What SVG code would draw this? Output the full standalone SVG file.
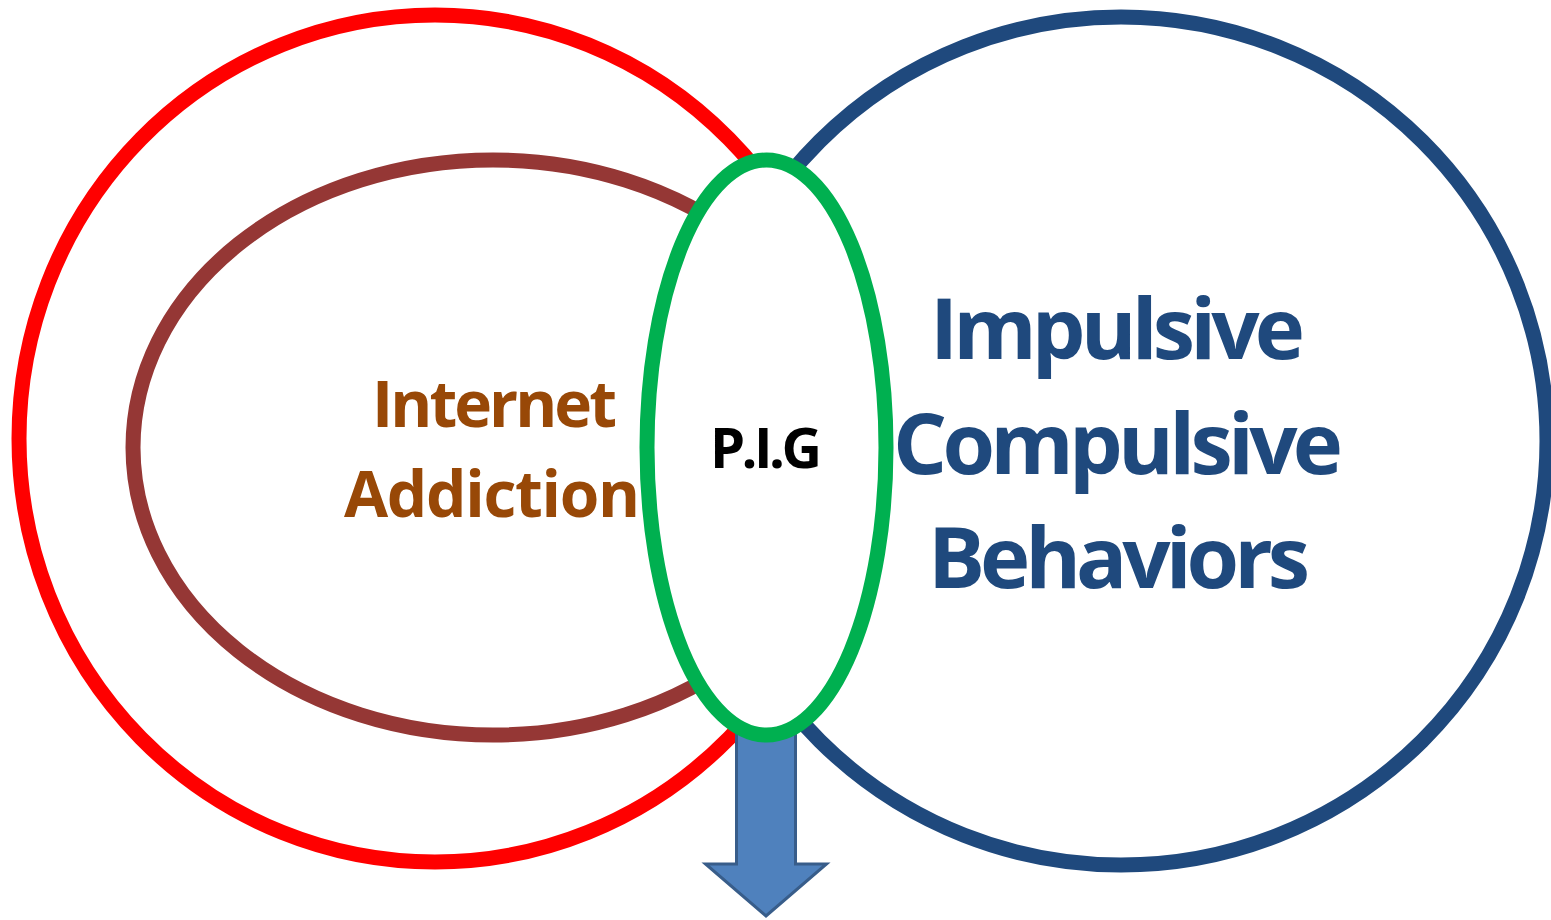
<svg xmlns="http://www.w3.org/2000/svg" width="1551" height="920" viewBox="0 0 1551 920">
<style>
.ring{fill:none;stroke-width:15}
.lbl{font-family:"Open Sans","Noto Sans","Liberation Sans",sans-serif;font-weight:700;text-anchor:middle}
.brown{fill:#984807;font-size:64px}
.blue{fill:#1F497D;font-size:85px}
.pig{fill:#000;font-size:56px}
</style>
<rect width="1551" height="920" fill="#fff"/>
<g id="internet-addiction-outer">
<ellipse class="ring" cx="435" cy="438.5" rx="416" ry="423.5" stroke="#FF0000"/>
</g>
<g id="impulsive-compulsive">
<ellipse class="ring" cx="1121" cy="441" rx="426" ry="424" stroke="#1F497D"/>
<text class="lbl blue" x="1117.5" y="359" textLength="375">Impulsive</text>
<text class="lbl blue" x="1118" y="474" textLength="450">Compulsive</text>
<text class="lbl blue" x="1119" y="588" textLength="382">Behaviors</text>
</g>
<g id="internet-addiction">
<ellipse class="ring" cx="493" cy="447.5" rx="360" ry="287.5" stroke="#953735"/>
<text class="lbl brown" x="494.5" y="427" textLength="245">Internet</text>
<text class="lbl brown" x="492" y="517" textLength="296">Addiction</text>
</g>
<g id="connectors">
<polygon points="736.5,700 795.5,700 795.5,864 826.5,864 766,916 705.5,864 736.5,864" fill="#4F81BD" stroke="#385D8A" stroke-width="3"/>
</g>
<g id="pig">
<ellipse cx="766.5" cy="447.5" rx="119.5" ry="287.5" fill="#fff" stroke="#00B050" stroke-width="15"/>
<text class="lbl pig" x="766" y="468" textLength="112">P.I.G</text>
</g>
</svg>
